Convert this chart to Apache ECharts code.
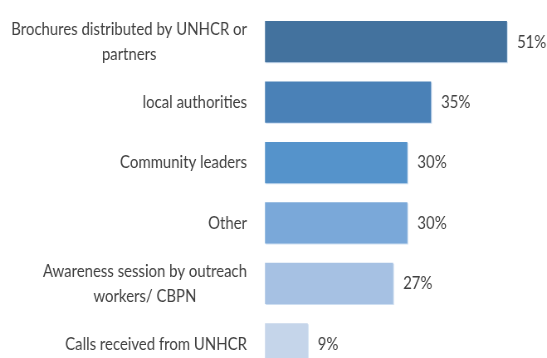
<!DOCTYPE html>
<html>
<head>
<meta charset="utf-8">
<script src="https://cdn.jsdelivr.net/npm/echarts@6/dist/echarts.min.js"></script>
<style>
  html, body { margin: 0; padding: 0; background: #fff; overflow: hidden; }
  #wrap { width: 547px; height: 358px; overflow: hidden; }
  /* The chart is laid out wider and condensed horizontally, giving the
     narrow, tall lettering of the original report typeface. */
  #chart { height: 358px; transform-origin: 0 0; }
</style>
</head>
<body>
<div id="wrap"><div id="chart"></div></div>
<script>
// Sources through which respondents heard about the service (% of respondents)
const categories = [
  'Brochures distributed by UNHCR or\npartners',
  'local authorities',
  'Community leaders',
  'Other',
  'Awareness session by outreach\nworkers/ CBPN',
  'Calls received from UNHCR'
];
const values = [51, 35, 30, 30, 27, 9];
const barColors = ['#43729e', '#4a81b7', '#5593cb', '#7aa8d9', '#a6c1e3', '#c5d5ea'];

const SQUEEZE = 0.83;              // horizontal condensing factor
const W = 547 / SQUEEZE;           // layout width before condensing
const px = v => v / SQUEEZE;       // on-screen horizontal px -> layout px

const FONT = 'Lato, sans-serif';
const FONT_SIZE = 18;
const TEXT_COLOR = '#3f3f3f';

const el = document.getElementById('chart');
el.style.width = W + 'px';
el.style.transform = 'scaleX(' + SQUEEZE + ')';

// Multi-line labels keep their lines centred within the block, so each
// wrapped label gets a rich style as wide as its longest line.
const ctx = document.createElement('canvas').getContext('2d');
ctx.font = FONT_SIZE + 'px ' + FONT;
const rich = {};
categories.forEach((c, i) => {
  const lines = c.split('\n');
  const w = Math.max(...lines.map(l => ctx.measureText(l).width));
  rich['r' + i] = { width: Math.ceil(w), align: 'center', lineHeight: 25,
                    fontFamily: FONT, fontSize: FONT_SIZE, color: TEXT_COLOR };
});

const chart = echarts.init(el, null, { renderer: 'canvas' });
chart.setOption({
  animation: false,
  backgroundColor: '#ffffff',
  grid: { left: px(265), right: px(21), top: 11.5, bottom: -16,
          containLabel: false, outerBoundsMode: 'none' },
  xAxis: {
    type: 'value', min: 0, max: 55, show: false
  },
  yAxis: {
    type: 'category',
    data: categories,
    inverse: true,
    axisLine: { show: false },
    axisTick: { show: false },
    splitLine: { show: false },
    axisLabel: {
      margin: px(18),
      fontFamily: FONT,
      fontSize: FONT_SIZE,
      color: TEXT_COLOR,
      lineHeight: 25,
      formatter: (val, idx) => {
        if (val.indexOf('\n') < 0) return val;
        return val.split('\n').map(l => '{r' + idx + '|' + l + '}').join('\n');
      },
      rich: rich
    }
  },
  series: [{
    type: 'bar',
    data: values.map((v, i) => ({ value: v, itemStyle: { color: barColors[i] } })),
    barCategoryGap: '31.6%',
    itemStyle: {
      shadowColor: 'rgba(200, 218, 240, 0.9)',
      shadowOffsetX: 1,
      shadowOffsetY: 1,
      shadowBlur: 0
    },
    label: {
      show: true,
      position: 'right',
      distance: px(10),
      formatter: p => p.value + '%',
      fontFamily: FONT,
      fontSize: FONT_SIZE,
      color: TEXT_COLOR
    }
  }]
});
</script>
</body>
</html>
